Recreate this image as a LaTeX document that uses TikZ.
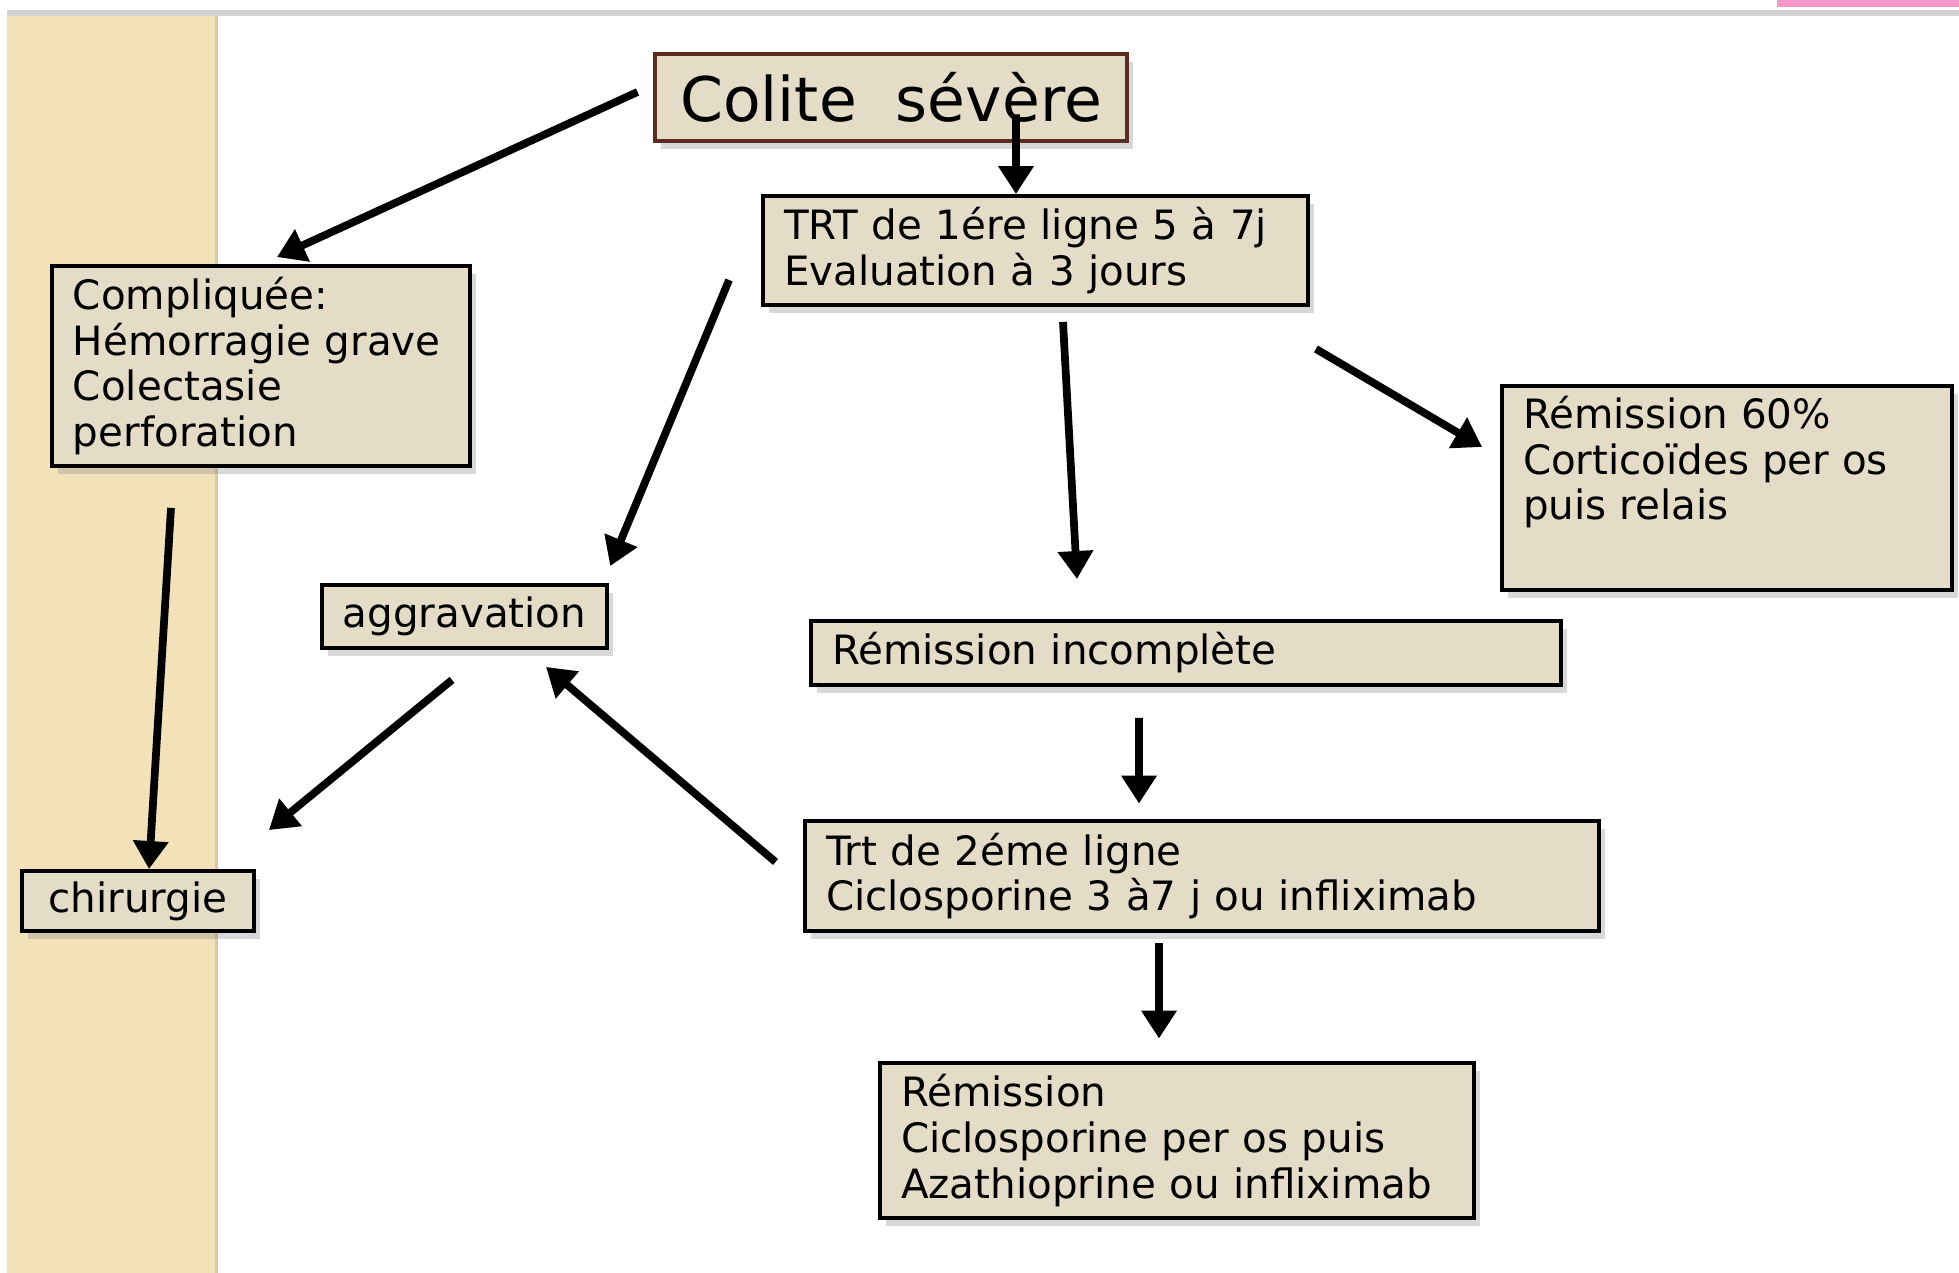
\documentclass[tikz,border=0pt]{standalone}
\usepackage{fontspec}
\setmainfont{DejaVu Sans}
\usetikzlibrary{arrows.meta,shadows}
\definecolor{boxfill}{RGB}{228,220,199}
\definecolor{titleframe}{RGB}{92,44,32}
\definecolor{stripfill}{RGB}{242,225,185}
\definecolor{stripedge}{RGB}{216,200,162}
\definecolor{tabpink}{RGB}{244,150,200}

\begin{document}
\begin{tikzpicture}[
    font=\fontsize{11.5}{13}\selectfont,
    box/.style={draw=black, line width=1.1pt, fill=boxfill, inner xsep=2.1mm, inner ysep=1mm,
        drop shadow={shadow xshift=0.6mm, shadow yshift=-0.8mm, opacity=0.3}},
    multi/.style={box, align=left},
    title/.style={box, draw=titleframe, line width=1.4pt, font=\fontsize{17.5}{20}\selectfont},
    arrow/.style={-{Triangle[width=3.4mm, length=2.8mm]}, line width=2.2pt}
]

% page frame
\useasboundingbox (0,0) rectangle (19.59,12.73);
\fill[white] (0,0) rectangle (19.59,12.73);
\fill[stripfill] (0.07,0) rectangle (2.18,12.58);
\fill[stripedge] (2.15,0) rectangle (2.18,12.58);
\draw[gray!35, line width=1.5pt] (0.07,12.60) -- (19.59,12.60);
\fill[tabpink] (17.77,12.66) rectangle (19.59,12.73);

% boxes
\node[title, minimum width=4.72cm, minimum height=0.87cm] (colite) at (8.91,11.755) {Colite~~sévère};

\node[multi, text width=5.03cm, minimum height=1.09cm] (trt) at (10.355,10.225) {TRT de 1ére ligne 5 à 7j\\Evaluation à 3 jours};
\node[multi, text width=3.76cm, minimum height=2cm] (compl) at (2.61,9.07) {Compliquée:\\Hémorragie grave\\Colectasie\\perforation};
\node[box, minimum width=4.5cm, minimum height=2.04cm] (rem60) at (17.27,7.85) {\parbox[c][1.84cm][t]{4.08cm}{Rémission 60\%\\Corticoïdes per os\\puis relais}};

\node[box, minimum width=2.85cm, minimum height=0.63cm] (agg) at (4.645,6.565) {aggravation};
\node[multi, text width=7.08cm, minimum height=0.64cm] (reminc) at (11.86,6.20) {Rémission incomplète};

\node[multi, text width=7.52cm, minimum height=1.10cm, line width=1.4pt] (trt2) at (12.02,3.97) {Trt de 2éme ligne\\Ciclosporine 3 à7 j ou infliximab};
\node[box, minimum width=2.32cm, minimum height=0.60cm] (chir) at (1.38,3.72) {chirurgie};

\node[multi, text width=5.52cm, minimum height=1.55cm, line width=1.4pt] (remfin) at (11.77,1.325) {Rémission\\Ciclosporine per os puis\\Azathioprine ou infliximab};

% arrows
\draw[arrow] ([xshift=-1.5mm,yshift=0.55mm]colite.west) -- ([xshift=1.6mm,yshift=0.7mm]compl.north);
\draw[arrow] ([xshift=12.5mm,yshift=2.9mm]colite.south) -- ([xshift=-1.95mm]trt.north);
\draw[arrow] ([xshift=-3.2mm,yshift=-2.95mm]trt.west) -- ([xshift=0.1mm,yshift=1.7mm]agg.north east);
\draw[arrow] ([xshift=2.75mm,yshift=-1.5mm]trt.south) -- ([xshift=-10.9mm,yshift=4mm]reminc.north);
\draw[arrow] ([xshift=0.6mm,yshift=-4.2mm]trt.south east) -- ([xshift=-1.8mm,yshift=4.1mm]rem60.west);
\draw[arrow] ([xshift=-9mm,yshift=-4mm]compl.south) -- ([xshift=1.1mm]chir.north);
\draw[arrow] ([xshift=-1.25mm,yshift=-3mm]agg.south) -- ([xshift=1.3mm,yshift=3.9mm]chir.north east);
\draw[arrow] ([xshift=-2.7mm,yshift=1.4mm]trt2.west) -- ([xshift=8.15mm,yshift=-1.7mm]agg.south);
\draw[arrow] ([xshift=-4.7mm,yshift=-3.1mm]reminc.south) -- ([xshift=-6.3mm,yshift=1.5mm]trt2.north);
\draw[arrow] ([xshift=-4.3mm,yshift=-1mm]trt2.south) -- ([xshift=-1.8mm,yshift=2.2mm]remfin.north);

\end{tikzpicture}
\end{document}
